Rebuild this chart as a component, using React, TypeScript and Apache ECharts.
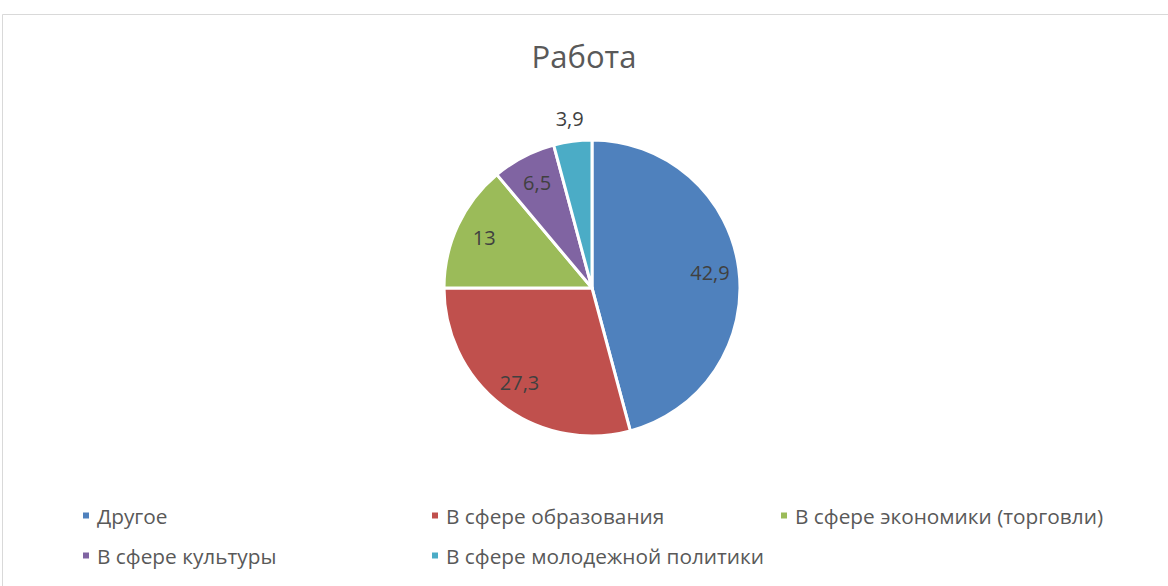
import React, { useEffect, useRef } from "react";
import * as echarts from "echarts";

const TITLE = "Работа";
const categories = [
  "Другое",
  "В сфере образования",
  "В сфере экономики (торговли)",
  "В сфере культуры",
  "В сфере молодежной политики",
];
const values = [42.9, 27.3, 13, 6.5, 3.9];
const labels = ["42,9", "27,3", "13", "6,5", "3,9"];
const colors = ["#4F81BD", "#C0504D", "#9BBB59", "#8064A2", "#4BACC6"];
const outsideIdx = [4];

export default function App() {
  const ref = useRef<HTMLDivElement>(null);
  useEffect(() => {
    if (!ref.current) return;
    const chart = echarts.init(ref.current, null, { renderer: "svg" });
    const font = "'Open Sans', 'Noto Sans', sans-serif";
    const data = categories.map((n, i) => ({ name: n, value: values[i], itemStyle: { color: colors[i] } }));
    const legendBase = {
      orient: "vertical" as const,
      icon: "rect",
      itemWidth: 8,
      itemHeight: 8,
      itemGap: 19,
      top: 500,
      textStyle: { color: "#595959", fontSize: 20.8, fontFamily: font, padding: [0, 0, 0, 2] },
      selectedMode: false,
    };
    chart.setOption({
      animation: false,
      color: colors,
      title: {
        text: TITLE,
        left: "center",
        top: 35,
        textStyle: { color: "#595959", fontSize: 31, fontWeight: "normal", fontFamily: font },
      },
      graphic: [
        {
          type: "rect",
          shape: { x: 2.5, y: 14.5, width: 1200, height: 600 },
          style: { fill: "none", stroke: "#D9D9D9", lineWidth: 1 },
          silent: true,
        },
      ],
      legend: [
        { ...legendBase, left: 76, data: [categories[0], categories[3]] },
        { ...legendBase, left: 425, data: [categories[1], categories[4]] },
        { ...legendBase, left: 774, data: [categories[2]] },
      ],
      series: [
        {
          type: "pie",
          center: [592, 288],
          radius: [0, 148],
          startAngle: 90,
          clockwise: true,
          data,
          label: { show: false },
          labelLine: { show: false },
          itemStyle: { borderColor: "#fff", borderWidth: 3 },
          emphasis: { disabled: true },
        },
        {
          type: "pie",
          center: [592, 288],
          radius: [84, 148],
          startAngle: 90,
          clockwise: true,
          silent: true,
          legendHoverLink: false,
          data: categories.map((n, i) => ({
            name: n,
            value: values[i],
            itemStyle: { color: "transparent" },
            label: { show: !outsideIdx.includes(i) },
          })),
          label: {
            show: true,
            position: "inside",
            formatter: (p: any) => labels[p.dataIndex],
            color: "#404040",
            fontSize: 20,
            fontFamily: font,
          },
          labelLine: { show: false },
          emphasis: { disabled: true },
        },
        {
          type: "pie",
          center: [592, 288],
          radius: [158, 178],
          startAngle: 90,
          clockwise: true,
          silent: true,
          legendHoverLink: false,
          data: categories.map((n, i) => ({
            name: n,
            value: values[i],
            itemStyle: { color: "transparent" },
            label: { show: outsideIdx.includes(i) },
          })),
          label: {
            show: true,
            position: "inside",
            formatter: (p: any) => labels[p.dataIndex],
            color: "#404040",
            fontSize: 20,
            fontFamily: font,
          },
          labelLine: { show: false },
          emphasis: { disabled: true },
        },
      ],
    });
    return () => chart.dispose();
  }, []);
  return (
    <div
      ref={ref}
      style={{ position: "absolute", left: 0, top: 0, width: 1168, height: 586 }}
    />
  );
}
